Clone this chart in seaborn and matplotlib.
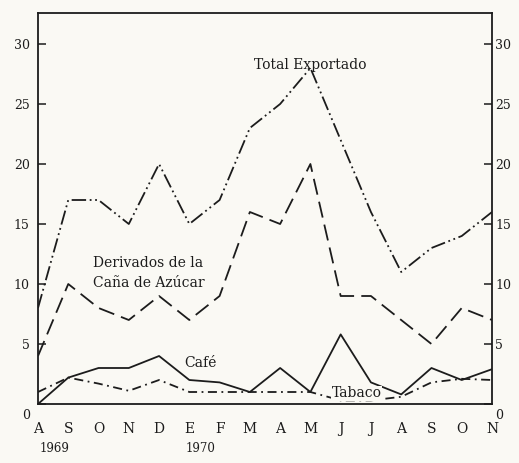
import matplotlib
matplotlib.use("Agg")
import matplotlib.pyplot as plt
import matplotlib.transforms as mtransforms
import seaborn as sns
import pandas as pd

months = ["A", "S", "O", "N", "D", "E", "F", "M", "A", "M", "J", "J", "A", "S", "O", "N"]
total_exportado = [8, 17, 17, 15, 20, 15, 17, 23, 25, 28, 22, 16, 11, 13, 14, 16]
derivados = [4, 10, 8, 7, 9, 7, 9, 16, 15, 20, 9, 9, 7, 5, 8, 7]
cafe = [0, 2.2, 3, 3, 4, 2, 1.8, 1, 3, 1, 5.8, 1.8, 0.8, 3, 2, 2.9]
tabaco = [1, 2.2, 1.7, 1.1, 2, 1, 1, 1, 1, 1, 0.3, 0.3, 0.6, 1.8, 2.1, 2]
yticks = [0, 5, 10, 15, 20, 25, 30]

series = {
    "Total Exportado": total_exportado,
    "Derivados": derivados,
    "Café": cafe,
    "Tabaco": tabaco,
}
rows = []
for name, vals in series.items():
    for i, v in enumerate(vals):
        rows.append({"pos": i, "valor": v, "serie": name})
df = pd.DataFrame(rows)

sns.set_theme(style="white")
plt.rcParams["font.family"] = ["DejaVu Serif", "Liberation Serif"]

ink = "#1c1c1c"
bg = "#faf9f4"
fig = plt.figure(figsize=(5.19, 4.63), dpi=100, facecolor=bg)
ax = fig.add_axes([38 / 519, 1 - 404 / 463, (492 - 38) / 519, (404 - 13) / 463])
ax.set_facecolor(bg)

dashes = {
    "Total Exportado": (8, 2, 1, 2, 1, 2),
    "Derivados": (9, 4),
    "Café": "",
    "Tabaco": (5, 2.5, 1, 2.5),
}
sns.lineplot(data=df, x="pos", y="valor", hue="serie", style="serie",
             palette={k: ink for k in series}, dashes=dashes,
             linewidth=1.3, legend=False, ax=ax, sort=False)

ax.set_xlim(0, len(months) - 1)
ax.set_ylim(0, (404 - 13) / 12)
ax.set_xlabel("")
ax.set_ylabel("")
ax.set_xticks(range(len(months)))
ax.set_xticklabels(months, fontsize=10, color=ink)
ax.set_yticks(yticks)
ax.set_yticklabels([str(t) for t in yticks], fontsize=9, color=ink)
ax.tick_params(axis="x", direction="in", length=5, width=1.1, color=ink, pad=13)
ax.tick_params(axis="y", direction="in", length=6, width=1.1, color=ink, pad=6,
               right=True, labelright=True, left=True, labelleft=True,
               labelsize=9, labelcolor=ink)
for s in ax.spines.values():
    s.set_visible(True)
    s.set_color(ink)
    s.set_linewidth(1.3)

# shift the "0" labels slightly below the axis line, as in the print,
# and pull the right-hand labels closer to the spine
down = mtransforms.ScaledTranslation(0, -10 / 100, fig.dpi_scale_trans)
left = mtransforms.ScaledTranslation(-5 / 100, 0, fig.dpi_scale_trans)
for t in ax.yaxis.get_major_ticks():
    t.label2.set_transform(t.label2.get_transform() + left)
    if t.get_loc() == 0:
        t.label1.set_transform(t.label1.get_transform() + down)
        t.label2.set_transform(t.label2.get_transform() + down)

blend = mtransforms.blended_transform_factory(ax.transData, ax.transAxes)
ax.text(0.56, -0.113, "1969", transform=blend, ha="center", va="center", fontsize=8.5, color=ink)
ax.text(5.36, -0.113, "1970", transform=blend, ha="center", va="center", fontsize=8.5, color=ink)

fs = 10
ax.text(8.99, 28.25, "Total Exportado", ha="center", va="center", fontsize=fs, color=ink)
ax.text(1.82, 11.75, "Derivados de la", ha="left", va="center", fontsize=fs, color=ink)
ax.text(1.82, 10.08, "Caña de Azúcar", ha="left", va="center", fontsize=fs, color=ink)
ax.text(4.82, 3.4, "Café", ha="left", va="center", fontsize=fs, color=ink)
ax.text(9.71, 0.9, "Tabaco", ha="left", va="center", fontsize=fs, color=ink,
        bbox=dict(facecolor=bg, edgecolor="none", pad=0.3))

fig.savefig("out.png", dpi=100, facecolor=bg)
